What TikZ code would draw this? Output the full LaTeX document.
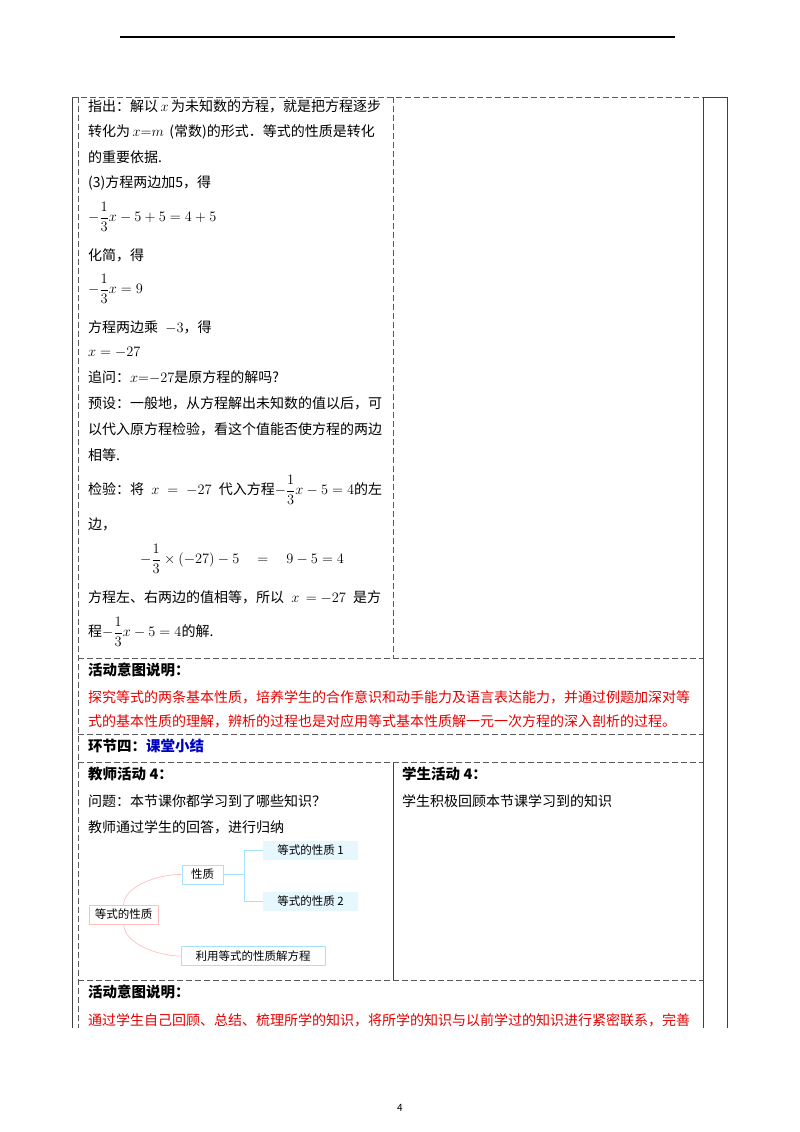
\documentclass[tikz,border=0pt]{standalone}
\usepackage{amsmath}
\usepackage{fontspec}
\setmainfont{Noto Sans CJK SC}
\begin{document}
\begin{tikzpicture}[x=1pt,y=-1pt,
  txt/.style={anchor=west,inner sep=0pt,font=\fontsize{14}{16}\selectfont},
  hd/.style={anchor=west,inner sep=0pt,font=\fontsize{14.5}{16}\selectfont\bfseries},
  red/.style={txt,text=red!90!black},
  solidl/.style={line width=0.8pt,black!75},
  dashl/.style={line width=0.8pt,black!65,dash pattern=on 6pt off 3pt},
  mm/.style={inner sep=2pt,minimum height=19pt,font=\fontsize{11.5}{13}\selectfont,anchor=center},
  bl/.style={draw=cyan!35,line width=0.7pt},
  pk/.style={draw=red!25,line width=0.7pt}]
\useasboundingbox (0,0) rectangle (800,1132);
\fill[white] (0,0) rectangle (800,1132);
% header
\draw[line width=1.2pt] (120,37) -- (675,37);
% frame
\draw[solidl] (72,97) -- (72,1028);
\draw[solidl] (703,97) -- (703,1028);
\draw[solidl] (727,97) -- (727,1028);
\draw[solidl] (703,97) -- (727,97);
\draw[dashl] (72,97) -- (703,97);
\draw[dashl] (78,97) -- (78,1028);
\draw[dashl] (393,97) -- (393,658);
\draw[solidl] (393,762) -- (393,980);
\foreach \yy in {658,734,762,980} \draw[dashl] (78,\yy) -- (703,\yy);
% left column text
\node[txt] (t1) at (88,106) {指出：解以$\,x\,$为未知数的方程，就是把方程逐步};
\node[txt] (t2) at (88,132) {转化为$\,x{=}m\,$ (常数)的形式．等式的性质是转化};
\node[txt] (t3) at (88,157) {的重要依据.};
\node[txt] (t4) at (88,183) {(3)方程两边加5，得};
\node[txt] (t5) at (88,217) {$-\dfrac{1}{3}x-5+5=4+5$};
\node[txt] (t6) at (88,255) {化简，得};
\node[txt] (t7) at (88,289) {$-\dfrac{1}{3}x=9$};
\node[txt] (t8) at (88,327) {方程两边乘 $\;-3$，得};
\node[txt] (t9) at (88,352) {$x=-27$};
\node[txt] (t10) at (88,377) {追问：$x{=}{-}27$是原方程的解吗?};
\node[txt] (t11) at (88,403) {预设：一般地，从方程解出未知数的值以后，可};
\node[txt] (t12) at (88,429) {以代入原方程检验，看这个值能否使方程的两边};
\node[txt] (t13) at (88,455) {相等.};
\node[txt] (t14) at (88,490) {检验：将 $\;x\;=\;-27\;$ 代入方程$-\dfrac{1}{3}x-5=4$的左};
\node[txt] (t15) at (88,524) {边，};
\node[txt] (t16) at (140,559) {$-\dfrac{1}{3}\times\left(-27\right)-5\quad=\quad 9-5=4$};
\node[txt] (t17) at (88,597) {方程左、右两边的值相等，所以 $\;x\,=-27\;$ 是方};
\node[txt] (t18) at (88,632) {程$-\dfrac{1}{3}x-5=4$的解.};
% activity intent
\node[hd] (h1) at (88,670) {活动意图说明：};
\node[red] (r1) at (88,697) {探究等式的两条基本性质，培养学生的合作意识和动手能力及语言表达能力，并通过例题加深对等};
\node[red] (r2) at (88,721) {式的基本性质的理解，辨析的过程也是对应用等式基本性质解一元一次方程的深入剖析的过程。};
\node[hd] (h2) at (88,746) {环节四：\textcolor{blue!75!black}{课堂小结}};
\node[hd] (h3) at (88,774) {教师活动 4：};
\node[hd] (h4) at (402,774) {学生活动 4：};
\node[txt] (t19) at (88,801) {问题：本节课你都学习到了哪些知识？};
\node[txt] (t20) at (88,827) {教师通过学生的回答，进行归纳};
\node[txt] (t21) at (402,801) {学生积极回顾本节课学习到的知识};
% mind map
\node[mm,pk,fill=white,minimum width=69pt] (m0) at (123.5,914.5) {等式的性质};
\node[mm,bl,fill=white,minimum width=41pt] (m1) at (202.5,874.5) {性质};
\node[mm,fill=cyan!10,minimum width=95pt] (m2) at (310.5,850.5) {等式的性质 1};
\node[mm,fill=cyan!10,minimum width=95pt] (m3) at (310.5,901) {等式的性质 2};
\node[mm,bl,fill=white,minimum width=144pt] (m4) at (253,956) {利用等式的性质解方程};
\draw[red!25,line width=0.7pt] (m0.north) .. controls (125,885) and (160,874) .. (m1.west);
\draw[red!25,line width=0.7pt] (m0.south) .. controls (125,945) and (160,956) .. (m4.west);
\coordinate (j) at (244,874.5);
\draw[cyan!35,line width=0.7pt] (m1.east) -- (j) (j) |- (m2.west) (j) |- (m3.west);
\node[hd] (h5) at (88,992) {活动意图说明：};
\node[red] (r3) at (88,1020) {通过学生自己回顾、总结、梳理所学的知识，将所学的知识与以前学过的知识进行紧密联系，完善};
\node[font=\fontsize{10}{12}\selectfont] (pg) at (400,1108) {4};
\end{tikzpicture}
\end{document}
